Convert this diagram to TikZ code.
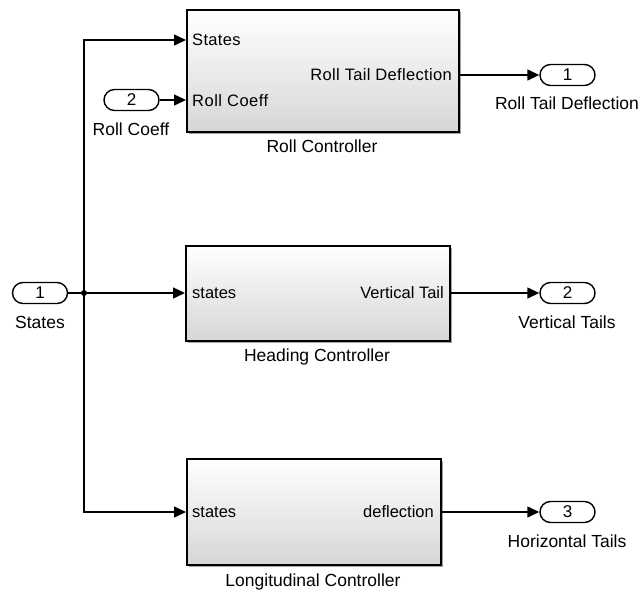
\documentclass[tikz,border=0pt]{standalone}
\usepackage{fontspec}
\setmainfont{Liberation Sans}
\usetikzlibrary{arrows.meta,shadows}
\begin{document}
\begin{tikzpicture}[x=1pt,y=-1pt,
  blk/.style={draw=black,line width=1.7pt,top color=white,bottom color=black!16,
    drop shadow={shadow xshift=2.5pt,shadow yshift=-2.5pt,fill=black!45,opacity=0.8},
    anchor=north west,inner sep=0pt},
  port/.style={draw=black,line width=1.4pt,rounded corners=10.5pt,minimum width=55pt,minimum height=21pt,
    inner sep=0pt,font=\fontsize{17}{17}\selectfont,fill=white},
  lbl/.style={font=\fontsize{17.5}{18}\selectfont,inner sep=0pt},
  plbl/.style={font=\fontsize{16.5}{16.5}\selectfont,inner sep=0pt},
  wire/.style={line width=1.4pt,-{Triangle[length=12pt,width=11pt]}},
  pl/.style={line width=1.4pt}]
\useasboundingbox (0,0) rectangle (641,592);

% blocks
\node[blk,minimum width=272pt,minimum height=122pt] (rc) at (186,9) {};
\node[blk,minimum width=264pt,minimum height=95pt] (hc) at (185,245) {};
\node[blk,minimum width=254pt,minimum height=106pt] (lc) at (186,458) {};

% block port coordinates
\coordinate (rcin1) at (186,40);
\coordinate (rcin2) at (186,100);
\coordinate (rcout) at (458,75);
\coordinate (hcin) at (185,293);
\coordinate (hcout) at (449,293);
\coordinate (lcin) at (186,512);
\coordinate (lcout) at (440,512);

% block inner labels
\node[plbl,anchor=west] (t1) at (192,40) {\addfontfeatures{LetterSpace=2}States};
\node[plbl,anchor=west] (t2) at (192,101) {\addfontfeatures{LetterSpace=3}Roll Coeff};
\node[plbl,anchor=east] (t3) at (452,75) {\addfontfeatures{LetterSpace=2}Roll Tail Deflection};
\node[plbl,anchor=west] (t4) at (192,293) {states};
\node[plbl,anchor=east] (t5) at (444,293) {Vertical Tail};
\node[plbl,anchor=west] (t6) at (192,512) {states};
\node[plbl,anchor=east] (t7) at (434,512) {deflection};

% block names
\node[lbl] (n1) at (322,146) {Roll Controller};
\node[lbl] (n2) at (317,357) {Heading Controller};
\node[lbl] (n3) at (313,582) {Longitudinal Controller};

% inports
\node[port] (in1) at (40,293) {1};
\node[lbl] (in1l) at (40,322) {States};
\node[port] (in2) at (131.5,100) {2};
\node[lbl] (in2l) at (131,129) {Roll Coeff};

% outports
\node[port] (out1) at (567.5,75) {1};
\node[lbl] (out1l) at (567,103) {Roll Tail Deflection};
\node[port] (out2) at (567.5,293) {2};
\node[lbl] (out2l) at (567,322) {Vertical Tails};
\node[port] (out3) at (567.5,512) {3};
\node[lbl] (out3l) at (567,541) {Horizontal Tails};

% junction
\coordinate (j) at (84,293);
\fill (j) circle (3pt);

% wires
\draw[pl] (in1.east) -- (j);
\draw[wire] (j) -- (hcin);
\draw[wire] (j) |- (rcin1);
\draw[wire] (j) |- (lcin);
\draw[wire] (in2.east) -- (rcin2);
\draw[wire] (rcout) -- (out1.west);
\draw[wire] (hcout) -- (out2.west);
\draw[wire] (lcout) -- (out3.west);
\end{tikzpicture}
\end{document}
